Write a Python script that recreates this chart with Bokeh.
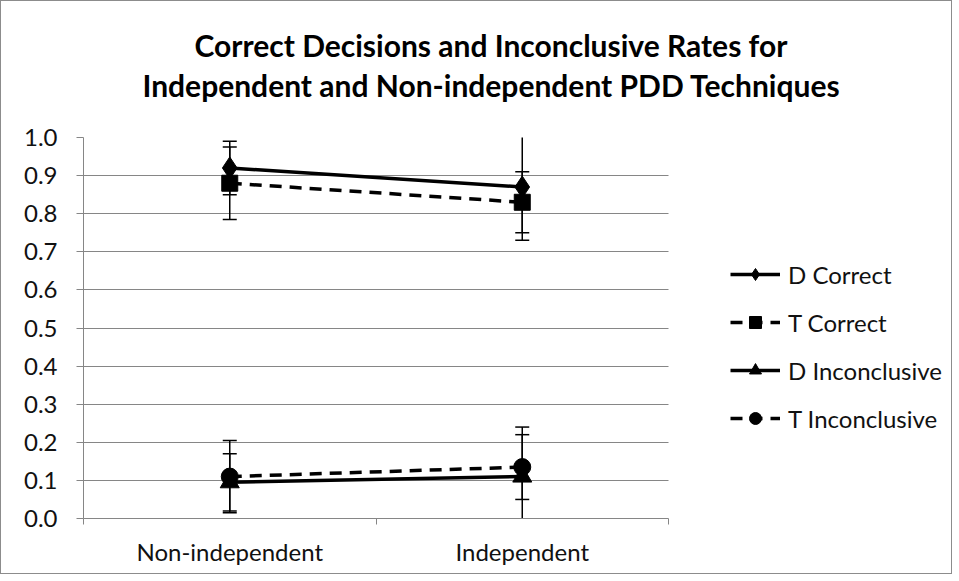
from bokeh.plotting import figure
from bokeh.models import (Range1d, FixedTicker, Whisker, ColumnDataSource, Legend,
                          LegendItem, Title, TeeHead, NumeralTickFormatter)
from bokeh.embed import file_html
from bokeh.resources import INLINE
import numpy as np

# ---- data ----
categories = ["Non-independent", "Independent"]
series_names = ["D Correct", "T Correct", "D Inconclusive", "T Inconclusive"]
d_correct = [0.92, 0.87]
d_correct_err = [0.07, 0.14]
t_correct = [0.88, 0.83]
t_correct_err = [0.095, 0.08]
d_incon = [0.095, 0.11]
d_incon_err = [0.075, 0.13]
t_incon = [0.11, 0.135]
t_incon_err = [0.095, 0.085]
y_ticks = [0.0, 0.1, 0.2, 0.3, 0.4, 0.5, 0.6, 0.7, 0.8, 0.9, 1.0]
title_lines = ["Correct Decisions and Inconclusive Rates for",
               "Independent and Non-independent PDD Techniques"]

FONT = "Lato"
GRID = "#868686"
TXT = "#111111"

# layout: the frame also hosts the legend; the data area is the left PLOT_W px
FRAME_W, FRAME_H, PLOT_W = 863, 381, 585
n = len(categories)
x = np.arange(n) + 0.5
boundaries = list(range(n + 1))
x_end = n * FRAME_W / PLOT_W

p = figure(frame_width=FRAME_W, frame_height=FRAME_H, output_backend="svg",
           toolbar_location=None,
           x_range=Range1d(0, x_end), y_range=Range1d(0, 1),
           min_border_left=82, min_border_right=5, min_border_top=136,
           min_border_bottom=55, outline_line_color=None,
           background_fill_color="white", border_fill_color="white")
p.styles = {"border": "1px solid #8c8c8c"}

# axes
p.xaxis.bounds = (0, n)
p.xaxis.ticker = FixedTicker(ticks=list(x), minor_ticks=boundaries)
p.xaxis.major_label_overrides = {float(xx): c for xx, c in zip(x, categories)}
p.xaxis.major_tick_line_color = None
p.xaxis.major_tick_out = 0
p.xaxis.major_tick_in = 0
p.xaxis.minor_tick_out = 6
p.xaxis.minor_tick_in = 0
p.xaxis.minor_tick_line_color = GRID
p.xaxis.axis_line_color = GRID
p.xaxis.major_label_standoff = 12

p.yaxis.ticker = FixedTicker(ticks=y_ticks, minor_ticks=[])
p.yaxis.formatter = NumeralTickFormatter(format="0.0")
p.yaxis.major_tick_in = 0
p.yaxis.major_tick_out = 7
p.yaxis.major_tick_line_color = GRID
p.yaxis.axis_line_color = GRID
p.yaxis.major_label_standoff = 19

for ax in (p.xaxis, p.yaxis):
    ax.major_label_text_font = FONT
    ax.major_label_text_font_size = "24px"
    ax.major_label_text_color = TXT

p.xgrid.visible = False
p.ygrid.ticker = FixedTicker(ticks=y_ticks)
p.ygrid.cross_bounds = (0, n)
p.ygrid.grid_line_color = GRID
p.ygrid.grid_line_width = 1

# series
series = [
    (d_correct, d_correct_err, "diamond", 22, "solid"),
    (t_correct, t_correct_err, "square", 16, "12 8"),
    (d_incon, d_incon_err, "triangle", 19, "solid"),
    (t_incon, t_incon_err, "circle", 17, "12 8"),
]

items = []
for name, (vals, errs, marker, size, dash) in zip(series_names, series):
    v = np.array(vals)
    e = np.array(errs)
    src = ColumnDataSource(dict(x=x, y=v, upper=v + e, lower=v - e))
    wh = Whisker(base="x", upper="upper", lower="lower", dimension="height", source=src,
                 line_color="black", line_width=1.5,
                 upper_head=TeeHead(size=14, line_width=1.5, line_color="black"),
                 lower_head=TeeHead(size=14, line_width=1.5, line_color="black"))
    p.add_layout(wh)
    ln = p.line("x", "y", source=src, line_color="black", line_width=3.5, line_dash=dash)
    sc = p.scatter("x", "y", source=src, marker=marker, size=size,
                   fill_color="black", line_color="black")
    items.append(LegendItem(label=name, renderers=[ln, sc]))

legend = Legend(items=items, location=(647, 85), padding=0, margin=0, spacing=18,
                glyph_width=50, glyph_height=30, label_height=30, label_standoff=8,
                label_text_font=FONT, label_text_font_size="24px",
                label_text_color=TXT, border_line_color=None,
                background_fill_alpha=0)
p.add_layout(legend, "center")

# two-line title, stacked above the frame (closest line added first)
offsets = [111, 59]
standoffs = [-66, 70]
for i in (1, 0):
    p.add_layout(Title(text=title_lines[i], align="left", offset=offsets[i],
                       standoff=standoffs[i], text_font=FONT, text_font_size="30px",
                       text_font_style="bold", text_color="black"), "above")

open("out.html", "w").write(file_html(p, INLINE))
